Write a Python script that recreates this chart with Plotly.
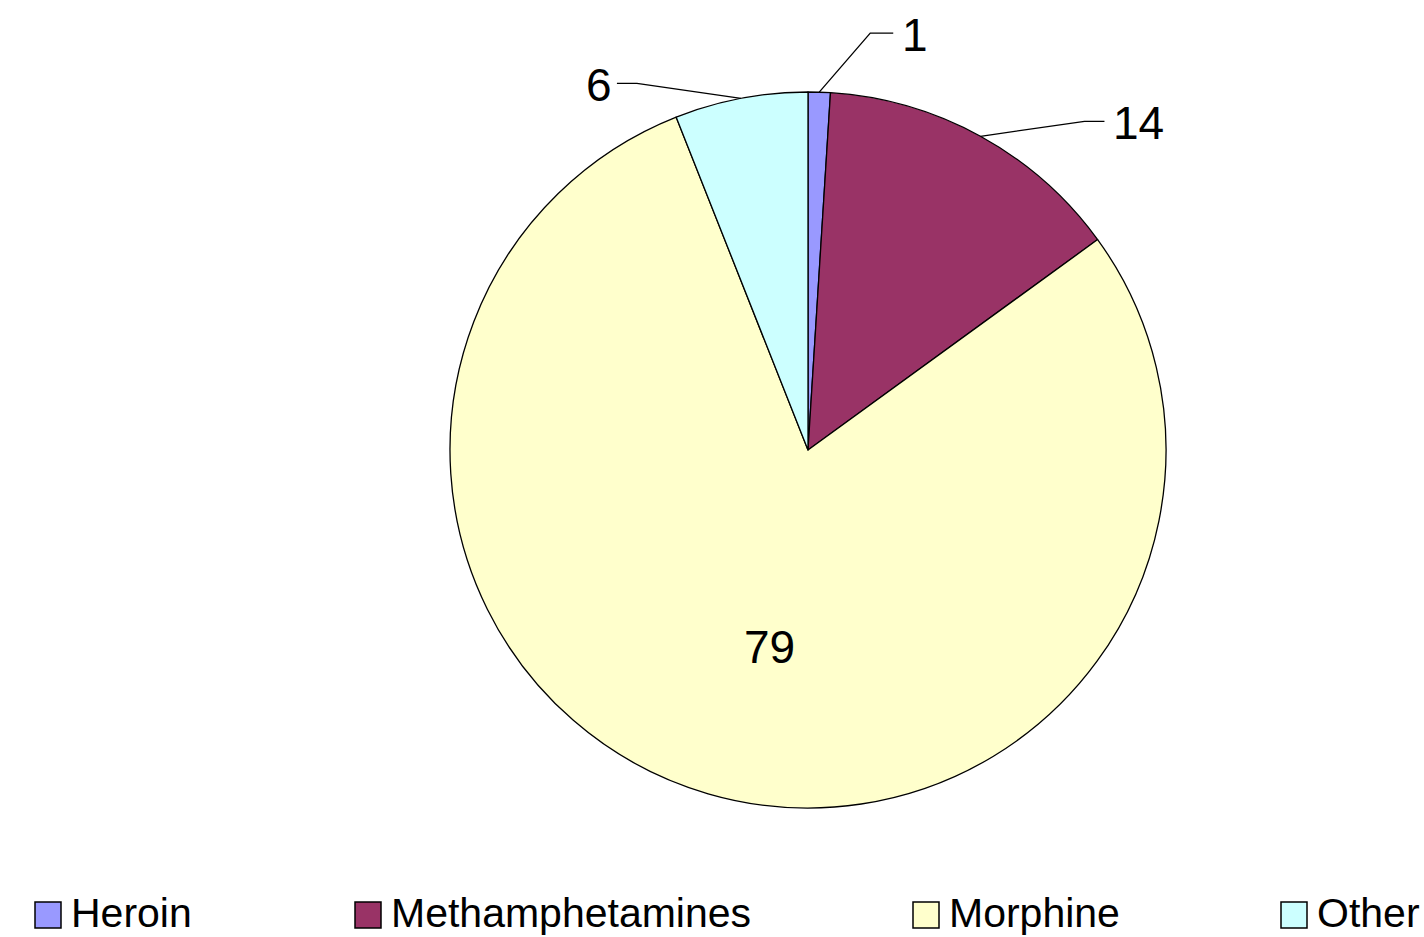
import math
import plotly.graph_objects as go

# ---- data ----
categories = ["Heroin", "Methamphetamines", "Morphine", "Other"]
values = [1, 14, 79, 6]
colors = ["#9999FF", "#993366", "#FFFFCC", "#CCFFFF"]

# ---- layout constants (pixels, in screenshot coordinates) ----
W, H = 1424, 937
CX, CY, R = 808, 450, 358
FONT = "Liberation Sans, Arial, sans-serif"
LABEL_SIZE = 46
LEGEND_SIZE = 41

def px(x):
    return x / W

def py(y):
    return 1 - y / H

fig = go.Figure()
fig.add_trace(go.Pie(
    labels=categories,
    values=values,
    marker=dict(colors=colors, line=dict(color="black", width=1.3)),
    sort=False,
    direction="clockwise",
    rotation=0,
    textinfo="none",
    hoverinfo="label+value",
    showlegend=False,
    domain=dict(x=[px(CX - R), px(CX + R)], y=[py(CY + R), py(CY - R)]),
))

# label placement style: (mode, dx, dy, horizontal run) ; inside -> (radius fraction, angle shift deg)
label_style = {
    "Heroin": ("out", 51, -59, 23),
    "Methamphetamines": ("out", 104, -15, 20),
    "Morphine": ("in", 0.56, -5, 0),
    "Other": ("out", -104, -15, -20),
}

total = sum(values)
cum = 0
shapes = []
annotations = []
for cat, v in zip(categories, values):
    mid = (cum + v / 2) / total * 2 * math.pi
    cum += v
    mode, a, b, run = label_style[cat]
    if mode == "in":
        ang = mid + math.radians(b)
        x = CX + a * R * math.sin(ang)
        y = CY - a * R * math.cos(ang)
        annotations.append(dict(x=px(x), y=py(y), xref="paper", yref="paper",
                                xanchor="center", yanchor="middle",
                                text=str(v), showarrow=False,
                                font=dict(family=FONT, size=LABEL_SIZE, color="black")))
        continue
    ex = CX + R * math.sin(mid)
    ey = CY - R * math.cos(mid)
    bx, by = ex + a, ey + b
    hx = bx + run
    shapes.append(dict(type="path", xref="paper", yref="paper",
                       path=f"M{px(ex)},{py(ey)} L{px(bx)},{py(by)} L{px(hx)},{py(by)}",
                       line=dict(color="black", width=1.3)))
    annotations.append(dict(x=px(hx + (7 if run > 0 else -3)), y=py(by + 2),
                            xref="paper", yref="paper",
                            xanchor="left" if run > 0 else "right", yanchor="middle",
                            text=str(v), showarrow=False,
                            font=dict(family=FONT, size=LABEL_SIZE, color="black")))

# legend drawn as boxes + text
legend_x = [35, 355, 913, 1281]
LEG_Y = 915
BOX = 26
for cat, col, lx in zip(categories, colors, legend_x):
    shapes.append(dict(type="rect", xref="paper", yref="paper",
                       x0=px(lx), x1=px(lx + BOX), y0=py(LEG_Y + BOX / 2), y1=py(LEG_Y - BOX / 2),
                       fillcolor=col, line=dict(color="black", width=1.5)))
    annotations.append(dict(x=px(lx + BOX + 9), y=0, xref="paper", yref="paper",
                            xanchor="left", yanchor="bottom", borderpad=0,
                            text=cat, showarrow=False,
                            font=dict(family=FONT, size=LEGEND_SIZE, color="black")))

fig.update_layout(
    width=W, height=H,
    margin=dict(l=0, r=0, t=0, b=0),
    paper_bgcolor="white",
    plot_bgcolor="white",
    shapes=shapes,
    annotations=annotations,
    showlegend=False,
)

fig.write_html(
    "out.html",
    config={"displayModeBar": False},
    post_script="document.body.style.margin='0';document.body.style.overflow='hidden';",
)
